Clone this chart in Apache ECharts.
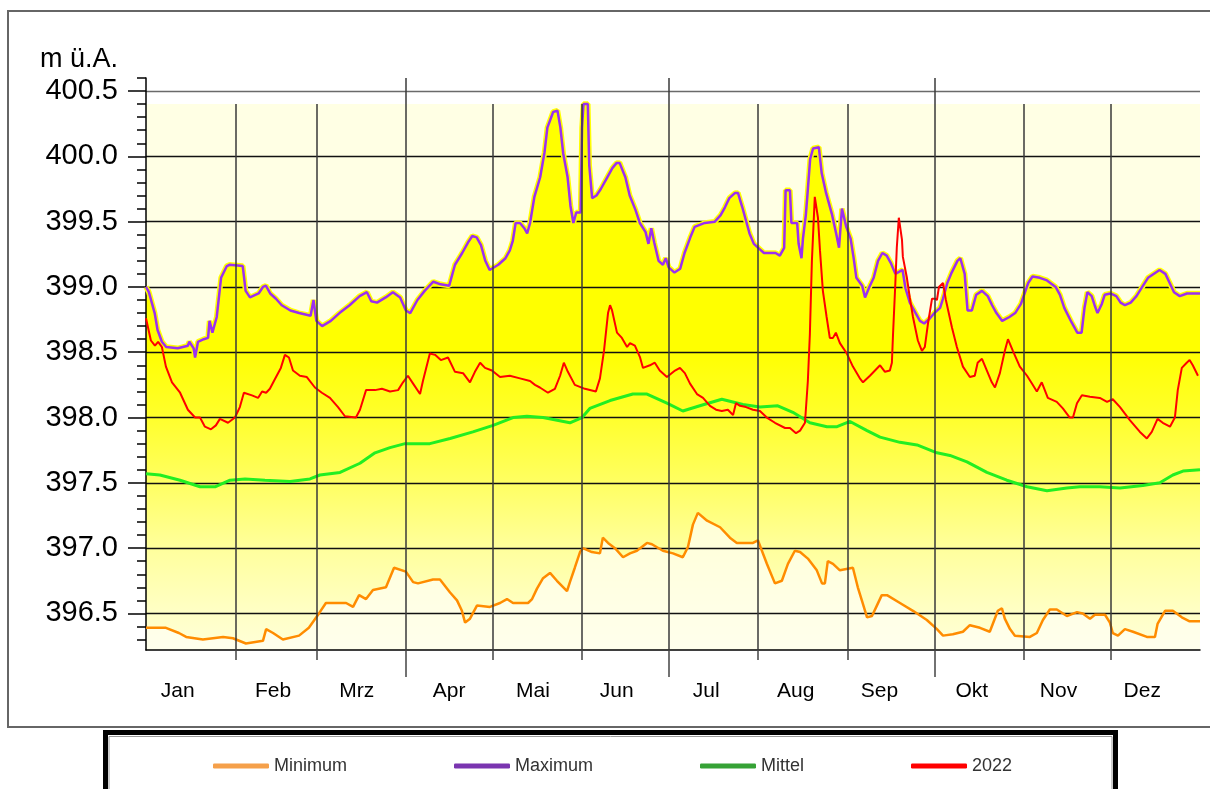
<!DOCTYPE html>
<html><head><meta charset="utf-8">
<script src="https://cdn.jsdelivr.net/npm/echarts@6/dist/echarts.min.js"></script>
<style>html,body{margin:0;padding:0;background:#fff}#c{width:1210px;height:789px}</style>
</head><body><div id="c"></div>
<script>
const monthNames = ['Jan','Feb','Mrz','Apr','Mai','Jun','Jul','Aug','Sep','Okt','Nov','Dez'];
const labelDays = [11,44,73,105,134,163,194,225,254,286,316,345];
const monthStarts = [31,59,90,120,151,181,212,243,273,304,334];
const quarterStarts = [90,181,273];
const yMajorTicks = [396.5,397.0,397.5,398.0,398.5,399.0,399.5,400.0,400.5];
const yMinorTicks = [396.3,396.4,396.6,396.7,396.8,396.9,397.1,397.2,397.3,397.4,397.6,397.7,397.8,397.9,398.1,398.2,398.3,398.4,398.6,398.7,398.8,398.9,399.1,399.2,399.3,399.4,399.6,399.7,399.8,399.9,400.1,400.2,400.3,400.4,400.6];
const seriesNames = ['Minimum','Maximum','Mittel','2022'];

const maxData = [[0,399.0],[1,398.96],[3,398.8],[4,398.67],[5.5,398.58],[7,398.54],[11,398.53],[14.5,398.55],[15,398.58],[16.5,398.53],[17,398.46],[18,398.58],[20,398.6],[21.5,398.61],[22,398.74],[23,398.65],[24.5,398.77],[26,399.07],[28,399.16],[29,399.17],[33.5,399.16],[34.5,398.97],[36,398.92],[39,398.95],[40.5,399.0],[41.5,399.01],[43,398.95],[45,398.91],[47,398.86],[50,398.82],[53,398.8],[57,398.78],[58,398.9],[58.5,398.9],[59,398.74],[61,398.7],[64,398.74],[67,398.8],[70.5,398.86],[74,398.93],[76.5,398.96],[78,398.89],[80,398.88],[83,398.92],[85.5,398.96],[88,398.92],[90,398.82],[91.5,398.8],[94,398.9],[96.5,398.97],[99.5,399.04],[102,399.02],[105,399.01],[107,399.17],[109.5,399.26],[111.5,399.34],[113,399.39],[114.5,399.38],[116,399.32],[117.5,399.2],[119,399.13],[122,399.17],[124.5,399.22],[126,399.28],[127,399.35],[128,399.49],[129.5,399.49],[131,399.45],[132,399.41],[133,399.49],[134.5,399.69],[136.5,399.84],[138,400.03],[139,400.22],[141,400.34],[142.5,400.35],[143.5,400.22],[144.5,400.02],[146,399.84],[147,399.62],[148,399.49],[149,399.57],[150.5,399.57],[151,400.22],[151.5,400.4],[153,400.4],[153.5,399.93],[154.5,399.68],[156,399.7],[157.5,399.75],[159.5,399.83],[161.5,399.91],[163,399.95],[164,399.95],[166,399.84],[167.5,399.7],[169.5,399.59],[171,399.49],[173,399.42],[174,399.33],[175,399.45],[176,399.34],[177.5,399.2],[179,399.17],[180,399.22],[181,399.15],[183,399.11],[185,399.14],[186.5,399.26],[188.5,399.38],[190,399.46],[193.5,399.49],[197,399.5],[199,399.55],[200.5,399.61],[202,399.68],[204,399.72],[205,399.72],[206.5,399.61],[208,399.49],[209,399.41],[210.5,399.33],[212.5,399.29],[214,399.26],[218,399.26],[219.5,399.24],[221,399.3],[221.5,399.74],[223,399.74],[223.5,399.49],[225.5,399.49],[226,399.33],[227,399.22],[227.5,399.37],[228.5,399.55],[229,399.69],[230,399.98],[231,400.06],[233,400.07],[234,399.87],[235.5,399.72],[237.5,399.56],[239,399.41],[240,399.3],[241,399.6],[242.5,399.46],[244,399.37],[245,399.23],[246,399.07],[248,399.01],[249,398.92],[250.5,399.0],[252,399.07],[253.5,399.2],[255,399.26],[256.5,399.24],[258,399.18],[259.5,399.1],[262,399.13],[263,398.99],[264.5,398.88],[266,398.82],[268,398.74],[269.5,398.72],[271.5,398.76],[273,398.8],[275,398.84],[276,398.91],[277.5,399.03],[279,399.11],[281,399.2],[282,399.22],[283.5,399.1],[284.5,398.82],[286,398.82],[287.5,398.94],[289.5,398.97],[291.5,398.93],[293,398.86],[294.5,398.8],[296.5,398.74],[299,398.77],[301,398.8],[303,398.87],[305.5,399.03],[307,399.08],[309.5,399.07],[312,399.05],[315,399.0],[316.5,398.94],[318,398.84],[320.5,398.73],[322.5,398.65],[324,398.65],[325,398.84],[326,398.96],[327.5,398.93],[328.5,398.86],[329.5,398.8],[331,398.87],[332,398.94],[334,398.95],[336,398.93],[337.5,398.88],[339,398.86],[341,398.88],[343,398.93],[345,399.0],[347,399.07],[351,399.13],[353,399.1],[354.5,399.03],[356,398.96],[358,398.93],[360.5,398.95],[365,398.95]];

const minData = [[0,396.39],[6.9,396.39],[11.4,396.35],[13.9,396.32],[19.7,396.30],[26.7,396.32],[30.1,396.31],[34.6,396.27],[40.5,396.29],[41.6,396.38],[44,396.35],[47.4,396.30],[53,396.33],[56.4,396.39],[59.9,396.50],[62.3,396.58],[69.3,396.58],[71.7,396.55],[73.8,396.64],[76.2,396.61],[78.6,396.68],[83.1,396.70],[85.9,396.85],[90,396.82],[92.5,396.74],[94.2,396.73],[99.4,396.76],[101.8,396.76],[105.3,396.66],[107.7,396.60],[109.4,396.52],[110.5,396.43],[112.2,396.46],[114.6,396.56],[119.1,396.55],[122.6,396.58],[125,396.61],[127.1,396.58],[132.3,396.58],[133.7,396.61],[135.4,396.69],[137.5,396.77],[139.9,396.81],[142.3,396.75],[145.8,396.67],[146.8,396.74],[148.5,396.85],[150.3,396.97],[151.3,397.0],[154.4,396.97],[157.2,396.96],[158.2,397.08],[160,397.04],[162.4,397.0],[165.2,396.93],[167.6,396.96],[170,396.98],[173.5,397.04],[175.2,397.03],[179,396.98],[182.5,396.96],[185.9,396.93],[187.7,397.01],[189.4,397.18],[191.1,397.27],[194.3,397.21],[198.8,397.16],[202.2,397.08],[204.6,397.04],[210.2,397.04],[211.9,397.06],[215,396.88],[217.8,396.73],[220.2,396.75],[222.3,396.88],[224.7,396.98],[226.5,396.97],[229.2,396.92],[232.3,396.83],[234.1,396.73],[235.1,396.73],[236.1,396.90],[237.9,396.88],[240.3,396.83],[244.8,396.85],[246.5,396.70],[247.9,396.60],[249.7,396.47],[251.4,396.48],[253.1,396.56],[254.8,396.64],[256.6,396.64],[261.1,396.58],[265.6,396.52],[270.4,396.45],[273.9,396.38],[276,396.33],[279.4,396.34],[282.9,396.36],[285.3,396.41],[288.8,396.39],[292.2,396.36],[295,396.52],[296.4,396.54],[297.4,396.46],[299.2,396.38],[300.9,396.33],[306.1,396.32],[308.5,396.35],[310.6,396.45],[313,396.53],[315.4,396.53],[318.9,396.48],[322.4,396.51],[324.4,396.50],[326.9,396.46],[328.6,396.49],[332.1,396.49],[333.8,396.43],[334.8,396.35],[336.6,396.33],[339,396.38],[341.8,396.36],[346.6,396.32],[349.4,396.32],[350.3,396.42],[352.9,396.52],[355.6,396.52],[358.7,396.47],[361.4,396.44],[365,396.44]];

const meanData = [[0,397.57],[4.8,397.56],[11.8,397.52],[18.7,397.47],[23.9,397.47],[29.1,397.52],[34.3,397.53],[41.2,397.52],[49.9,397.51],[56.8,397.53],[60.2,397.56],[67.2,397.58],[74.1,397.65],[79.3,397.73],[84.5,397.77],[89.7,397.80],[98.3,397.80],[105.3,397.84],[113.2,397.89],[120.2,397.94],[127.1,398.0],[131.9,398.01],[137.5,398.0],[146.8,397.96],[151,398.0],[153.7,398.07],[160.7,398.13],[168.6,398.18],[173.5,398.18],[180.4,398.11],[185.9,398.05],[191.8,398.09],[199.4,398.14],[206.7,398.10],[212.6,398.08],[218.8,398.09],[224,398.04],[229.9,397.96],[235.8,397.93],[239.3,397.93],[243.8,397.97],[249.7,397.90],[254.2,397.85],[261.1,397.81],[267,397.79],[273.9,397.73],[278.4,397.71],[284.3,397.66],[291.2,397.58],[298.1,397.52],[305.1,397.47],[312,397.44],[318.9,397.46],[323.4,397.47],[330.3,397.47],[337.3,397.46],[345.2,397.48],[351.1,397.50],[355.6,397.56],[359.1,397.59],[365,397.60]];

const y2022Data = [[0,398.76],[0.7,398.69],[1.7,398.59],[3.1,398.55],[4.2,398.58],[5.5,398.54],[6.9,398.39],[9,398.27],[11.8,398.19],[14.5,398.06],[17,398.0],[18.7,398.0],[20.4,397.93],[22.5,397.91],[24.2,397.94],[25.6,397.99],[28.4,397.96],[30.8,398.0],[32.5,398.08],[33.9,398.19],[36.7,398.17],[38.8,398.15],[40.2,398.20],[41.6,398.19],[42.9,398.22],[44.3,398.28],[46.7,398.38],[48.1,398.48],[49.5,398.46],[50.9,398.36],[53.3,398.32],[55.7,398.31],[58.5,398.23],[60.9,398.19],[63.7,398.15],[66.5,398.08],[68.9,398.01],[72.7,398.0],[74.1,398.06],[76.2,398.21],[79.3,398.21],[81.7,398.22],[84.5,398.20],[87.3,398.21],[89,398.27],[90.7,398.32],[92.5,398.26],[94.9,398.18],[95.9,398.28],[98.3,398.49],[100.1,398.48],[102.1,398.44],[104.6,398.46],[107,398.35],[109.8,398.34],[112.2,398.27],[113.9,398.35],[115.7,398.42],[117.4,398.38],[119.8,398.36],[122.6,398.31],[126,398.32],[129.5,398.30],[133,398.28],[134.7,398.25],[136.4,398.23],[139.2,398.19],[141.6,398.22],[143.4,398.32],[144.7,398.42],[146.1,398.35],[148.5,398.25],[152,398.22],[155.8,398.20],[157.2,398.30],[158.6,398.51],[160,398.80],[160.7,398.86],[161.4,398.82],[163.1,398.65],[164.8,398.61],[166.6,398.54],[167.6,398.57],[169.3,398.55],[171.1,398.46],[172.1,398.38],[174.5,398.40],[176.2,398.42],[177.9,398.36],[180.4,398.31],[183.2,398.36],[184.9,398.38],[186.6,398.34],[188.4,398.26],[190.8,398.18],[192.9,398.15],[195.3,398.09],[197.4,398.06],[199.4,398.05],[201.5,398.06],[203.3,398.02],[204.3,398.11],[205.7,398.09],[207.8,398.08],[210.2,398.06],[212.6,398.05],[215,398.0],[217.8,397.96],[221.3,397.92],[223,397.92],[225.1,397.88],[226.5,397.90],[228.2,397.96],[229.2,398.28],[229.9,398.64],[230.6,399.2],[231.6,399.69],[232.7,399.53],[233.4,399.28],[234.4,398.97],[235.7,398.77],[236.8,398.61],[237.9,398.61],[238.9,398.65],[240.3,398.57],[242.7,398.49],[244.8,398.39],[247.2,398.30],[248.3,398.27],[250.7,398.32],[254.2,398.40],[255.9,398.35],[257.6,398.36],[258.3,398.42],[258.7,398.64],[259.5,399.03],[260,399.3],[260.7,399.53],[261.8,399.36],[262.1,399.23],[263.5,399.07],[264.5,398.92],[265.6,398.77],[267.3,398.59],[268.7,398.51],[269.7,398.54],[270.8,398.72],[272.2,398.91],[273.2,398.91],[273.9,398.90],[274.6,399.0],[276,399.03],[277,398.90],[279.1,398.69],[280.8,398.54],[282.9,398.39],[285.3,398.31],[287,398.32],[288,398.42],[289.5,398.45],[291.2,398.36],[292.9,398.27],[294,398.23],[295.7,398.34],[297.4,398.51],[298.5,398.60],[300.2,398.51],[302.6,398.39],[305.1,398.32],[306.8,398.26],[308.5,398.20],[310.2,398.27],[312.3,398.15],[315.4,398.12],[317.5,398.07],[319.9,398.0],[321,398.0],[322.4,398.11],[324.1,398.17],[326.9,398.16],[330.3,398.15],[332.8,398.12],[334.8,398.14],[337.3,398.08],[340.7,397.98],[344.2,397.89],[346.6,397.84],[348.3,397.89],[350.3,397.99],[352.1,397.96],[354.6,397.93],[356.3,398.0],[357.3,398.21],[358.7,398.38],[360.4,398.42],[361.4,398.44],[362.5,398.40],[364.3,398.32]];

const Y_MIN = 396.22, Y_MAX = 400.6, FILL_TOP = 400.4;
const FONT = 'Liberation Sans, Arial, sans-serif';

const chart = echarts.init(document.getElementById('c'));
const vLines = monthStarts.map(d => [
  {coord: [d, quarterStarts.includes(d) ? Y_MAX : FILL_TOP]},
  {coord: [d, Y_MIN]}
]);

chart.setOption({
  animation: false,
  backgroundColor: '#ffffff',
  title: {text: 'm ü.A.', left: 35, top: 41, textStyle: {fontFamily: FONT, fontSize: 27, fontWeight: 'normal', color: '#000'}},
  grid: {left: 146, right: 10, top: 78, bottom: 139},
  legend: {
    left: 208, top: 752, itemWidth: 56, itemHeight: 5, itemGap: 107, icon: 'roundRect',
    textStyle: {fontFamily: FONT, fontSize: 18, color: '#333'},
    data: [
      {name: seriesNames[0], itemStyle: {color: '#f5a04a'}},
      {name: seriesNames[1], itemStyle: {color: '#7a35b0'}},
      {name: seriesNames[2], itemStyle: {color: '#36a236'}},
      {name: seriesNames[3], itemStyle: {color: '#ff0000'}}
    ]
  },
  graphic: [
    {type: 'rect', z: -1, shape: {x: 8, y: 11, width: 1210, height: 716}, style: {fill: 'none', stroke: '#666', lineWidth: 2}},
    {type: 'rect', shape: {x: 105.5, y: 732.5, width: 1010, height: 80}, style: {fill: '#fff', stroke: '#000', lineWidth: 5}},
    {type: 'rect', shape: {x: 109, y: 736.5, width: 1003, height: 70}, style: {fill: 'none', stroke: '#999', lineWidth: 1}}
  ],
  xAxis: [
    {type: 'value', min: 0, max: 365, position: 'bottom', z: 2,
     axisLine: {show: true, lineStyle: {color: '#000', width: 1.5}},
     axisTick: {show: true, customValues: monthStarts.filter(d => !quarterStarts.includes(d)), length: 10, lineStyle: {color: '#444', width: 1.5}},
     axisLabel: {show: true, customValues: labelDays, margin: 31, fontFamily: FONT, fontSize: 21, color: '#000',
       formatter: v => monthNames[labelDays.indexOf(v)] || ''},
     splitLine: {show: false}},
    {type: 'value', min: 0, max: 365, position: 'bottom', z: 2,
     axisLine: {show: false},
     axisTick: {show: true, customValues: quarterStarts, length: 27, lineStyle: {color: '#444', width: 1.5}},
     axisLabel: {show: false},
     splitLine: {show: false}}
  ],
  yAxis: [
    {type: 'value', min: Y_MIN, max: Y_MAX, position: 'left', z: 2,
     axisLine: {show: true, lineStyle: {color: '#000', width: 1.5}},
     axisTick: {show: true, customValues: yMajorTicks, length: 18, lineStyle: {color: '#000', width: 1.5}},
     axisLabel: {show: true, customValues: yMajorTicks, margin: 28, fontFamily: FONT, fontSize: 29, color: '#000',
       formatter: v => v.toFixed(1)},
     splitLine: {show: true, lineStyle: {color: ['#111','#111','#111','#111','#111','#111','#111','#111','#6a6a6a'], width: 1.4}}},
    {type: 'value', min: Y_MIN, max: Y_MAX, position: 'left', z: 2,
     axisLine: {show: false},
     axisTick: {show: true, customValues: yMinorTicks, length: 9, lineStyle: {color: '#000', width: 1.5}},
     axisLabel: {show: false},
     splitLine: {show: false}}
  ],
  series: [
    {name: 'bg', type: 'line', data: [], z: 0, silent: true,
     markArea: {silent: true, itemStyle: {color: '#ffffe4'}, data: [[{coord: [0, FILL_TOP]}, {coord: [365, Y_MIN]}]]}},
    {name: 'fillMax', type: 'line', data: maxData, z: 1, symbol: 'none', silent: true,
     lineStyle: {width: 0}, areaStyle: {origin: 'start', opacity: 1,
       color: new echarts.graphic.LinearGradient(0, 0, 0, 1, [
         {offset: 0, color: '#ffff00'}, {offset: 0.45, color: '#ffff00'},
         {offset: 0.574, color: '#ffff2c'}, {offset: 0.694, color: '#ffff62'},
         {offset: 0.813, color: '#ffff9c'}, {offset: 0.933, color: '#ffffc6'},
         {offset: 1, color: '#ffffd8'}])}},
    {name: 'fillMin', type: 'line', data: minData, z: 1, symbol: 'none', silent: true,
     lineStyle: {width: 0}, areaStyle: {origin: 'start', opacity: 1, color: 'rgba(255,255,242,0.75)'}},
    {name: 'vgrid', type: 'line', data: [], z: 2, silent: true,
     markLine: {silent: true, symbol: 'none', label: {show: false}, lineStyle: {color: '#3a3a3a', width: 1.5, type: 'solid'}, data: vLines}},
    {name: 'halo', type: 'line', data: maxData, z: 3, symbol: 'none', silent: true,
     lineStyle: {color: '#ffff00', width: 5.5}},
    {name: seriesNames[0], type: 'line', data: minData, z: 4, symbol: 'none', lineStyle: {color: '#ff8c00', width: 2.5}},
    {name: seriesNames[1], type: 'line', data: maxData, z: 4, symbol: 'none', lineStyle: {color: '#9b30f0', width: 2.5}},
    {name: seriesNames[2], type: 'line', data: meanData, z: 4, symbol: 'none', lineStyle: {color: '#22ee22', width: 3}},
    {name: seriesNames[3], type: 'line', data: y2022Data, z: 4, symbol: 'none', lineStyle: {color: '#ff0000', width: 2}}
  ]
});
</script></body></html>
